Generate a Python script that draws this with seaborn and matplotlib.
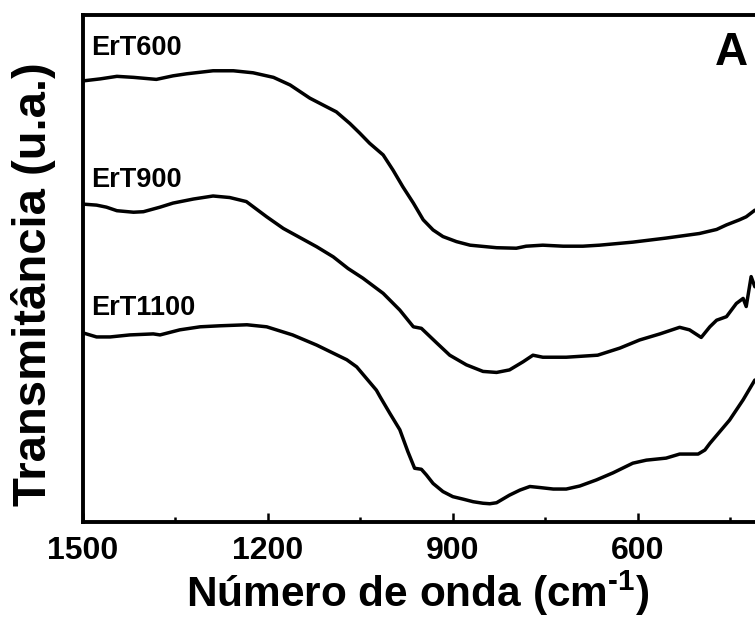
import matplotlib
matplotlib.use("Agg")
import matplotlib.pyplot as plt
from matplotlib.ticker import MultipleLocator
import seaborn as sns
import pandas as pd

# FTIR transmittance spectra (arbitrary units) of the ErT samples
wn_600 = [1500, 1472, 1445, 1418, 1381, 1354, 1332, 1289, 1256, 1224, 1191, 1164, 1132, 1105,
          1089, 1067, 1051, 1035, 1013, 997, 981, 964, 948, 932, 916, 894, 872, 829, 797, 781, 754,
          721, 689, 662, 608, 554, 500, 472, 456, 435, 424, 410]
t_600 = [87.0, 87.4, 87.9, 87.7, 87.3, 88.0, 88.4, 89.0, 89.0, 88.6, 87.7, 86.2, 83.6, 81.9,
         80.9, 78.6, 76.7, 74.7, 72.4, 69.4, 66.1, 62.9, 59.6, 57.6, 56.3, 55.3, 54.6, 54.1, 54.0, 54.4, 54.6,
         54.4, 54.4, 54.6, 55.2, 56.0, 56.9, 57.7, 58.6, 59.6, 60.2, 61.5]

wn_900 = [1500, 1478, 1462, 1445, 1418, 1402, 1375, 1354, 1321, 1289, 1262, 1235, 1202, 1175,
          1148, 1121, 1094, 1070, 1046, 1013, 986, 964, 951, 926, 905, 878, 851, 829, 808, 786, 770, 754,
          716, 665, 629, 597, 564, 532, 516, 497, 483, 472, 456, 440, 429, 424, 416, 410]
t_900 = [62.7, 62.5, 62.1, 61.4, 61.1, 61.2, 62.1, 62.9, 63.7, 64.3, 64.0, 63.2, 60.2, 57.9,
         56.1, 54.3, 52.3, 50.0, 48.1, 45.1, 41.8, 38.5, 38.2, 35.3, 32.9, 31.0, 29.7, 29.5, 30.0, 31.6, 32.9, 32.5,
         32.5, 32.9, 34.3, 35.9, 37.1, 38.4, 37.9, 36.4, 38.5, 39.8, 40.5, 43.1, 44.1, 42.5, 48.4, 46.4]

wn_1100 = [1500, 1478, 1456, 1424, 1386, 1375, 1343, 1310, 1278, 1234, 1202, 1160, 1121, 1094,
           1072, 1056, 1040, 1024, 1018, 1002, 986, 973, 962, 951, 943, 932, 916, 900, 883, 867,
           851, 840, 829, 808, 791, 775, 759, 737, 716, 694, 667, 640, 608, 586, 570, 554, 543,
           532, 502, 491, 483, 451, 429, 410]
t_1100 = [37.3, 36.5, 36.5, 36.9, 37.1, 36.9, 37.9, 38.5, 38.7, 38.9, 38.5, 36.9, 34.9, 33.3,
          32.0, 30.6, 28.3, 26.0, 24.7, 21.4, 18.2, 13.9, 10.6, 10.4, 9.3, 7.6, 6.0, 5.0, 4.5, 4.0,
          3.7, 3.6, 3.8, 5.3, 6.3, 7.0, 6.8, 6.5, 6.5, 7.1, 8.3, 9.7, 11.6, 12.2, 12.4, 12.6, 13.0,
          13.4, 13.4, 14.2, 15.5, 20.1, 24.1, 28.0]

sample_names = ["ErT600", "ErT900", "ErT1100"]
name_pos = [(1487, 92.1), (1487, 66.1), (1487, 40.8)]
major_ticks = [1500, 1200, 900, 600]

sns.set_style("ticks")
plt.rcParams["font.family"] = ["Liberation Sans", "DejaVu Sans"]
plt.rcParams["font.weight"] = "bold"
plt.rcParams["mathtext.fontset"] = "custom"
plt.rcParams["mathtext.rm"] = "Liberation Sans:bold"
plt.rcParams["mathtext.it"] = "Liberation Sans:bold"
plt.rcParams["mathtext.bf"] = "Liberation Sans:bold"
plt.rcParams["text.color"] = "black"
plt.rcParams["axes.labelcolor"] = "black"
plt.rcParams["xtick.color"] = "black"
plt.rcParams["ytick.color"] = "black"

frames = []
for name, wn, t in zip(sample_names, [wn_600, wn_900, wn_1100], [t_600, t_900, t_1100]):
    frames.append(pd.DataFrame({"wn": wn, "T": t, "sample": name}))
df = pd.concat(frames, ignore_index=True)

fig = plt.figure(figsize=(7.55, 6.2), dpi=100)
ax = fig.add_axes([83 / 755, 1 - 522 / 620, 678 / 755, 507 / 620])

for name in sample_names:
    sub = df[df["sample"] == name]
    sns.lineplot(data=sub, x="wn", y="T", ax=ax, color="black", lw=2.5,
                 estimator=None, sort=False, legend=False)

for name, (xp, yp) in zip(sample_names, name_pos):
    ax.text(xp, yp, name, fontsize=19.5, fontweight="bold", ha="left", va="baseline")

ax.text(0.932, 0.901, "A", transform=ax.transAxes, fontsize=33, fontweight="bold",
        ha="left", va="baseline")

ax.set_xlim(1500, 400)
ax.set_ylim(0, 100)
ax.set_xticks(major_ticks)
ax.set_xticklabels([str(v) for v in major_ticks])
ax.xaxis.set_minor_locator(MultipleLocator(150))
ax.set_yticks([])
ax.tick_params(axis="x", which="major", direction="in", length=6.5, width=1.8,
               labelsize=23, pad=10)
ax.tick_params(axis="x", which="minor", direction="in", length=3.3, width=1.8)
for lab in ax.get_xticklabels():
    lab.set_fontweight("bold")

for s in ax.spines.values():
    s.set_linewidth(2.8)
    s.set_color("black")

ax.set_xlabel(r"Número de onda (cm$^{\text{-1}}$)", fontsize=30.5, fontweight="bold")
ax.xaxis.set_label_coords(0.494, -0.092)
ax.set_ylabel("Transmitância (u.a.)", fontsize=34, fontweight="bold", va="center")
ax.yaxis.set_label_coords(-0.0737, 0.469)

fig.savefig("out.png", dpi=100, facecolor="white")
